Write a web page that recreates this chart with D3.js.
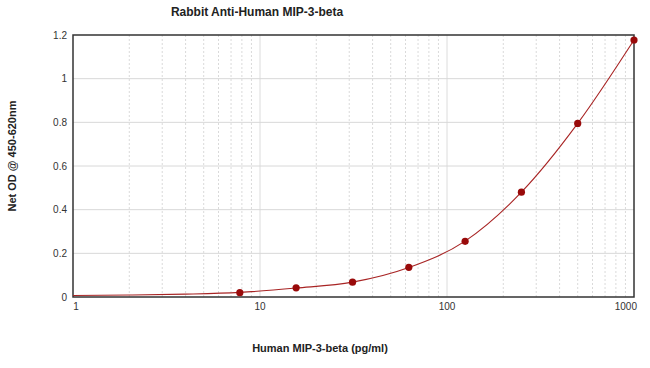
<!DOCTYPE html>
<html>
<head>
<meta charset="utf-8">
<script src="https://cdn.jsdelivr.net/npm/d3@7.9.0/dist/d3.min.js"></script>
<style>
  body { margin: 0; background: #fff; }
  text { font-family: "Liberation Sans", Arial, sans-serif; }
</style>
</head>
<body>
<svg id="chart" width="650" height="368"></svg>
<script>
// standard concentrations (pg/ml) and measured OD
const conc = [7.8, 15.6, 31.25, 62.5, 125, 250, 500, 1000];
const od   = [0.02, 0.042, 0.068, 0.136, 0.255, 0.48, 0.795, 1.177];

// fitted curve
const fitX = [1, 2, 4, 7.8, 15.6, 31.25, 62.5, 125, 250, 500, 1000];
const fitY = [0.007, 0.009, 0.013, 0.021, 0.041, 0.068, 0.135, 0.256, 0.48, 0.795, 1.177];

const yTicks = [0, 0.2, 0.4, 0.6, 0.8, 1, 1.2];
const xMajor = [1, 10, 100, 1000];

const svg = d3.select('#chart');
const plotL = 73, plotR = 634, plotT = 35, plotB = 297;

const x = d3.scaleLog().domain([1, 1000]).range([plotL, plotR]);
const y = d3.scaleLinear().domain([0, 1.2]).range([plotB, plotT]);

// minor vertical gridlines (2..9 per decade), dashed
const minor = [];
[1, 10, 100].forEach(dec => { for (let k = 2; k <= 9; k++) minor.push(dec * k); });

svg.append('g').selectAll('line')
  .data(minor)
  .join('line')
  .attr('x1', d => x(d)).attr('x2', d => x(d))
  .attr('y1', plotT).attr('y2', plotB)
  .attr('stroke', '#dadada')
  .attr('stroke-width', 1)
  .attr('stroke-dasharray', '2,2');

// decade gridlines
svg.append('g').selectAll('line')
  .data([10, 100])
  .join('line')
  .attr('x1', d => x(d)).attr('x2', d => x(d))
  .attr('y1', plotT).attr('y2', plotB)
  .attr('stroke', '#dcdcdc');

// horizontal gridlines
svg.append('g').selectAll('line')
  .data(yTicks.slice(1, -1))
  .join('line')
  .attr('x1', plotL).attr('x2', plotR)
  .attr('y1', d => y(d)).attr('y2', d => y(d))
  .attr('stroke', '#d8d8d8');

// frame
svg.append('rect')
  .attr('x', plotL).attr('y', plotT)
  .attr('width', plotR - plotL).attr('height', plotB - plotT)
  .attr('fill', 'none')
  .attr('stroke', '#333')
  .attr('stroke-width', 1.5);

// y tick labels
svg.append('g').selectAll('text')
  .data(yTicks)
  .join('text')
  .attr('x', 67)
  .attr('y', d => y(d) + 3.5)
  .attr('text-anchor', 'end')
  .attr('font-size', 10)
  .attr('fill', '#333')
  .text(d => d3.format('~g')(d));

// x tick labels
svg.append('g').selectAll('text')
  .data(xMajor)
  .join('text')
  .attr('x', d => x(d) + (d === 1000 ? 3 : d === 1 ? 3 : 0))
  .attr('y', 310)
  .attr('text-anchor', d => d === 1000 ? 'end' : 'middle')
  .attr('font-size', 10)
  .attr('fill', '#333')
  .text(d => d);

// fitted curve
const line = d3.line()
  .x((d, i) => x(fitX[i]))
  .y(d => y(d))
  .curve(d3.curveMonotoneX);

svg.append('path')
  .datum(fitY)
  .attr('d', line)
  .attr('fill', 'none')
  .attr('stroke', '#a82424')
  .attr('stroke-width', 1.1);

// data points
svg.append('g').selectAll('circle')
  .data(od)
  .join('circle')
  .attr('cx', (d, i) => x(conc[i]))
  .attr('cy', d => y(d))
  .attr('r', 3.6)
  .attr('fill', '#990a0a');

// title and axis labels
svg.append('text')
  .attr('x', 257).attr('y', 16)
  .attr('text-anchor', 'middle')
  .attr('font-size', 12)
  .attr('font-weight', 'bold')
  .attr('fill', '#222')
  .text('Rabbit Anti-Human MIP-3-beta');

svg.append('text')
  .attr('x', 320).attr('y', 352)
  .attr('text-anchor', 'middle')
  .attr('font-size', 11)
  .attr('font-weight', 'bold')
  .attr('fill', '#222')
  .text('Human MIP-3-beta (pg/ml)');

svg.append('text')
  .attr('transform', 'translate(16,156) rotate(-90)')
  .attr('text-anchor', 'middle')
  .attr('font-size', 11)
  .attr('font-weight', 'bold')
  .attr('fill', '#222')
  .text('Net OD @ 450-620nm');
</script>
</body>
</html>
